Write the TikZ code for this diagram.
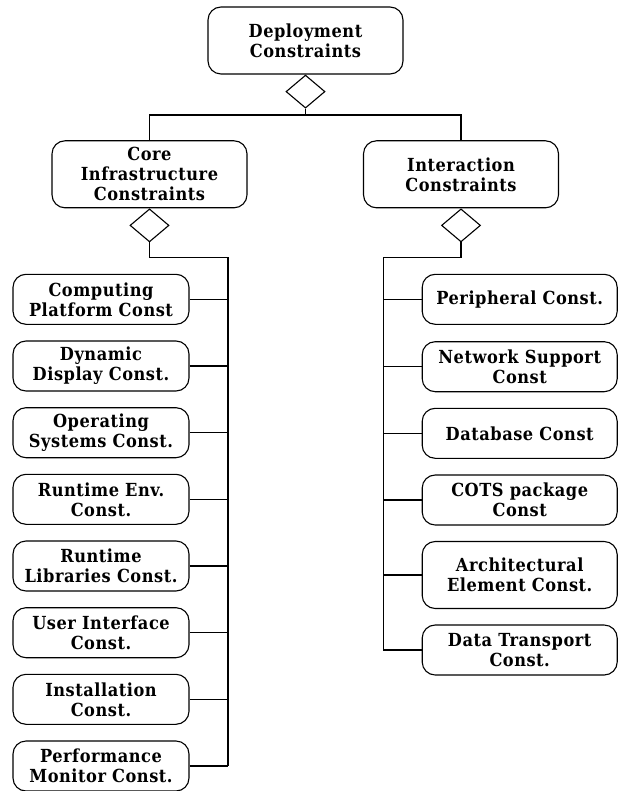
\documentclass[tikz,border=0pt]{standalone}
\usepackage{fontspec}
\setmainfont{DejaVu Serif Condensed}[LetterSpace=3]
\usetikzlibrary{shapes.geometric}
\tikzset{
  box/.style={draw, line width=1.1pt, rounded corners=13pt, align=center, inner sep=0pt,
    font=\bfseries\fontsize{18}{20}\selectfont},
  bigbox/.style={box, minimum width=195pt, minimum height=67pt},
  lbox/.style={box, minimum width=176pt, minimum height=50pt},
  rbox/.style={box, minimum width=195pt, minimum height=50pt},
  agg/.style={draw, line width=1.1pt, shape=diamond, minimum width=39pt, minimum height=33pt, inner sep=0pt, anchor=north, fill=white},
  link/.style={line width=1.1pt},
}
\begin{document}
\begin{tikzpicture}[x=1pt,y=-1pt]
\useasboundingbox (0,0) rectangle (618,791);
\node[bigbox] (top) at (305.5,40.5) {Deployment\\Constraints};
\node[bigbox] (core) at (149.5,174.3) {Core\\Infrastructure\\Constraints};
\node[bigbox] (inter) at (461,174.3) {Interaction\\Constraints};
\node[agg] (d0) at (top.south) {};
\node[agg] (d1) at (core.south) {};
\node[agg] (d2) at (inter.south) {};
\coordinate (hbar) at (305.5,115);
\coordinate (lbus) at (228,257.7);
\coordinate (rbus) at (383.3,257.7);

\node[lbox] (c1) at (101,299.3) {Computing\\Platform Const};
\node[lbox] (c2) at (101,366.0) {Dynamic\\Display Const.};
\node[lbox] (c3) at (101,432.7) {Operating\\Systems Const.};
\node[lbox] (c4) at (101,499.3) {Runtime Env.\\Const.};
\node[lbox] (c5) at (101,566.0) {Runtime\\Libraries Const.};
\node[lbox] (c6) at (101,632.7) {User Interface\\Const.};
\node[lbox] (c7) at (101,699.3) {Installation\\Const.};
\node[lbox] (c8) at (101,766.0) {Performance\\Monitor Const.};

\node[rbox] (r1) at (519.7,299.3) {Peripheral Const.};
\node[rbox] (r2) at (519.7,366.7) {Network Support\\Const};
\node[rbox] (r3) at (519.7,433.3) {Database Const};
\node[rbox] (r4) at (519.7,500.0) {COTS package\\Const};
\node[rbox, minimum height=67pt] (r5) at (519.7,575.0) {Architectural\\Element Const.};
\node[rbox] (r6) at (519.7,650.0) {Data Transport\\Const.};

\draw[link] (d0.south) -- (hbar);
\draw[link] (core.north) |- (hbar) -| (inter.north);
\draw[link] (d1.south) |- (lbus) -- (lbus |- c8.east);
\draw[link] (d2.south) |- (rbus) -- (rbus |- r6.west);
\foreach \n in {c1,c2,c3,c4,c5,c6,c7,c8} \draw[link] (\n.east) -- (\n.east -| lbus);
\foreach \n in {r1,r2,r3,r4,r5,r6} \draw[link] (\n.west) -- (\n.west -| rbus);
\end{tikzpicture}
\end{document}
